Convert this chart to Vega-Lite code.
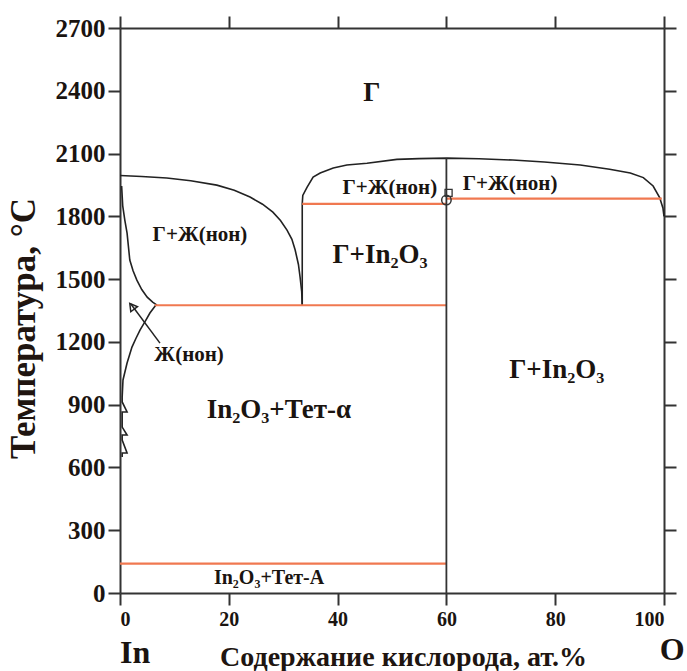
{
  "$schema": "https://vega.github.io/schema/vega-lite/v6.json",
  "autosize": "none",
  "width": 544,
  "height": 565,
  "padding": {"left": 120, "top": 28, "right": 23, "bottom": 78},
  "background": "white",
  "config": {
    "font": "Liberation Serif",
    "view": {"stroke": null},
    "axis": {"grid": false, "domainColor": "#333", "domainWidth": 2, "tickColor": "#333", "tickWidth": 2, "tickSize": 12, "labelFont": "Liberation Serif", "labelFontWeight": "bold", "labelColor": "#1a1410", "titleFont": "Liberation Serif", "titleFontWeight": "bold", "titleColor": "#201510"}
  },
  "datasets": {
    "curves": [
      {"c": "A", "o": 1, "x": 0, "T": 1995}, {"c": "A", "o": 2, "x": 4, "T": 1990}, {"c": "A", "o": 3, "x": 8.6, "T": 1983}, {"c": "A", "o": 4, "x": 13, "T": 1970}, {"c": "A", "o": 5, "x": 17.8, "T": 1949}, {"c": "A", "o": 6, "x": 21, "T": 1925}, {"c": "A", "o": 7, "x": 23.9, "T": 1892}, {"c": "A", "o": 8, "x": 26.2, "T": 1858}, {"c": "A", "o": 9, "x": 28.1, "T": 1820}, {"c": "A", "o": 10, "x": 29.5, "T": 1780}, {"c": "A", "o": 11, "x": 30.7, "T": 1734}, {"c": "A", "o": 12, "x": 31.6, "T": 1690}, {"c": "A", "o": 13, "x": 32.2, "T": 1639}, {"c": "A", "o": 14, "x": 32.8, "T": 1570}, {"c": "A", "o": 15, "x": 33.1, "T": 1510}, {"c": "A", "o": 16, "x": 33.4, "T": 1440}, {"c": "A", "o": 17, "x": 33.5, "T": 1376},
      {"c": "B", "o": 1, "x": 33.5, "T": 1376}, {"c": "B", "o": 2, "x": 33.5, "T": 1860}, {"c": "B", "o": 3, "x": 33.6, "T": 1900}, {"c": "B", "o": 4, "x": 34.4, "T": 1940}, {"c": "B", "o": 5, "x": 35.5, "T": 1988}, {"c": "B", "o": 6, "x": 36.8, "T": 2007}, {"c": "B", "o": 7, "x": 39.2, "T": 2031}, {"c": "B", "o": 8, "x": 41.7, "T": 2045}, {"c": "B", "o": 9, "x": 45.4, "T": 2054}, {"c": "B", "o": 10, "x": 50.9, "T": 2072}, {"c": "B", "o": 11, "x": 55, "T": 2076}, {"c": "B", "o": 12, "x": 60.1, "T": 2078}, {"c": "B", "o": 13, "x": 66, "T": 2075}, {"c": "B", "o": 14, "x": 72.2, "T": 2069}, {"c": "B", "o": 15, "x": 78, "T": 2060}, {"c": "B", "o": 16, "x": 84.6, "T": 2045}, {"c": "B", "o": 17, "x": 90, "T": 2025}, {"c": "B", "o": 18, "x": 93.8, "T": 2007}, {"c": "B", "o": 19, "x": 96.2, "T": 1985}, {"c": "B", "o": 20, "x": 98.0, "T": 1945}, {"c": "B", "o": 21, "x": 99.2, "T": 1890}, {"c": "B", "o": 22, "x": 99.8, "T": 1840}, {"c": "B", "o": 23, "x": 100, "T": 1800},
      {"c": "C", "o": 1, "x": 0.3, "T": 1945}, {"c": "C", "o": 2, "x": 0.5, "T": 1850}, {"c": "C", "o": 3, "x": 0.9, "T": 1780}, {"c": "C", "o": 4, "x": 1.3, "T": 1720}, {"c": "C", "o": 5, "x": 1.8, "T": 1591}, {"c": "C", "o": 6, "x": 2.4, "T": 1540}, {"c": "C", "o": 7, "x": 3.1, "T": 1495}, {"c": "C", "o": 8, "x": 4.0, "T": 1450}, {"c": "C", "o": 9, "x": 5.0, "T": 1414}, {"c": "C", "o": 10, "x": 6.0, "T": 1390}, {"c": "C", "o": 11, "x": 6.8, "T": 1376},
      {"c": "D", "o": 1, "x": 6.6, "T": 1376}, {"c": "D", "o": 2, "x": 5.5, "T": 1338}, {"c": "D", "o": 3, "x": 4.6, "T": 1297}, {"c": "D", "o": 4, "x": 3.7, "T": 1257}, {"c": "D", "o": 5, "x": 2.9, "T": 1215}, {"c": "D", "o": 6, "x": 2.2, "T": 1175}, {"c": "D", "o": 7, "x": 1.3, "T": 1099}, {"c": "D", "o": 8, "x": 0.55, "T": 1018}, {"c": "D", "o": 9, "x": 0.4, "T": 936}, {"c": "D", "o": 10, "x": 0.4, "T": 913}, {"c": "D", "o": 11, "x": 1.3, "T": 865}, {"c": "D", "o": 12, "x": 0.4, "T": 865}, {"c": "D", "o": 13, "x": 0.4, "T": 793}, {"c": "D", "o": 14, "x": 1.3, "T": 755}, {"c": "D", "o": 15, "x": 0.4, "T": 755}, {"c": "D", "o": 16, "x": 0.4, "T": 731}, {"c": "D", "o": 17, "x": 1.3, "T": 669}, {"c": "D", "o": 18, "x": 0.4, "T": 669}, {"c": "D", "o": 19, "x": 0.4, "T": 650}
    ],
    "isotherms": [
      {"x": 6.4, "x2": 60, "T": 1375},
      {"x": 33.5, "x2": 60, "T": 1860},
      {"x": 60, "x2": 99.6, "T": 1885},
      {"x": 0, "x2": 60, "T": 140}
    ],
    "verticals": [
      {"x": 60, "T": 0, "T2": 2078}
    ],
    "arrow": [
      {"x": 7.35, "T": 1194, "x2": 2.0, "T2": 1381}
    ],
    "arrowhead": [
      {"x": 2.2, "T": 1370}
    ],
    "circ": [{"x": 60, "T": 1878}],
    "sq": [{"x": 60.4, "T": 1912}],
    "lab21": [
      {"t": "Г+Ж(нон)", "x": 14.7, "T": 1710},
      {"t": "Г+Ж(нон)", "x": 49.6, "T": 1935},
      {"t": "Г+Ж(нон)", "x": 71.7, "T": 1954},
      {"t": "Ж(нон)", "x": 12.7, "T": 1137}
    ],
    "lab27": [
      {"t": "Г+In₂O₃", "x": 47.8, "T": 1615},
      {"t": "Г+In₂O₃", "x": 80.3, "T": 1065},
      {"t": "In₂O₃+Тет-α", "x": 29.2, "T": 874}
    ],
    "labG": [{"t": "Г", "x": 46.3, "T": 2389}],
    "labA": [{"t": "In₂O₃+Тет-A", "x": 27.4, "T": 72}],
    "ends": [
      {"t": "In", "x": 2.8, "T": -335},
      {"t": "O", "x": 101.5, "T": -320}
    ]
  },
  "layer": [
    {
      "layer": [
        {
          "data": {"name": "curves"},
          "mark": {"type": "line", "color": "#222", "strokeWidth": 1.6},
          "encoding": {
            "x": {"field": "x", "type": "quantitative", "scale": {"domain": [0, 100], "nice": false}, "axis": {"orient": "bottom", "values": [0, 20, 40, 60, 80, 100], "format": "d", "labelFontSize": 20, "labelPadding": 4, "title": "Содержание кислорода, ат.%", "titleFontSize": 28, "titleX": 283, "titleY": 72, "titleBaseline": "alphabetic"}},
            "y": {"field": "T", "type": "quantitative", "scale": {"domain": [0, 2700], "nice": false}, "axis": {"orient": "left", "values": [0, 300, 600, 900, 1200, 1500, 1800, 2100, 2400, 2700], "format": "d", "labelFontSize": 25, "labelPadding": 3, "title": "Температура, °C", "titleFontSize": 35, "titleX": -86, "titleY": 300, "titleBaseline": "alphabetic", "titleAngle": -90, "titleAlign": "center"}},
            "detail": {"field": "c"},
            "order": {"field": "o", "type": "quantitative"}
          }
        },
        {
          "data": {"name": "isotherms"},
          "mark": {"type": "rule", "color": "#f07850", "strokeWidth": 2.2},
          "encoding": {"x": {"field": "x", "type": "quantitative"}, "x2": {"field": "x2"}, "y": {"field": "T", "type": "quantitative"}}
        },
        {
          "data": {"name": "verticals"},
          "mark": {"type": "rule", "color": "#333", "strokeWidth": 1.8},
          "encoding": {"x": {"field": "x", "type": "quantitative"}, "y": {"field": "T", "type": "quantitative"}, "y2": {"field": "T2"}}
        },
        {
          "data": {"name": "arrow"},
          "mark": {"type": "rule", "color": "#222", "strokeWidth": 1.5},
          "encoding": {"x": {"field": "x", "type": "quantitative"}, "y": {"field": "T", "type": "quantitative"}, "x2": {"field": "x2"}, "y2": {"field": "T2"}}
        },
        {
          "data": {"name": "arrowhead"},
          "mark": {"type": "point", "shape": "triangle-up", "angle": 323, "size": 70, "filled": false, "stroke": "#222", "strokeWidth": 1.5, "opacity": 1},
          "encoding": {"x": {"field": "x", "type": "quantitative"}, "y": {"field": "T", "type": "quantitative"}}
        },
        {
          "data": {"name": "circ"},
          "mark": {"type": "point", "shape": "circle", "size": 90, "filled": false, "stroke": "#333", "strokeWidth": 1.5, "opacity": 1},
          "encoding": {"x": {"field": "x", "type": "quantitative"}, "y": {"field": "T", "type": "quantitative"}}
        },
        {
          "data": {"name": "sq"},
          "mark": {"type": "point", "shape": "square", "size": 50, "filled": false, "stroke": "#333", "strokeWidth": 1.3, "opacity": 1},
          "encoding": {"x": {"field": "x", "type": "quantitative"}, "y": {"field": "T", "type": "quantitative"}}
        },
        {
          "data": {"name": "lab21"},
          "mark": {"type": "text", "fontSize": 21, "fontWeight": "bold", "color": "#1a1410", "baseline": "middle"},
          "encoding": {"x": {"field": "x", "type": "quantitative"}, "y": {"field": "T", "type": "quantitative"}, "text": {"field": "t"}}
        },
        {
          "data": {"name": "lab27"},
          "mark": {"type": "text", "fontSize": 27, "fontWeight": "bold", "color": "#1a1410", "baseline": "middle"},
          "encoding": {"x": {"field": "x", "type": "quantitative"}, "y": {"field": "T", "type": "quantitative"}, "text": {"field": "t"}}
        },
        {
          "data": {"name": "labG"},
          "mark": {"type": "text", "fontSize": 27, "fontWeight": "bold", "color": "#1a1410", "baseline": "middle"},
          "encoding": {"x": {"field": "x", "type": "quantitative"}, "y": {"field": "T", "type": "quantitative"}, "text": {"field": "t"}}
        },
        {
          "data": {"name": "labA"},
          "mark": {"type": "text", "fontSize": 20, "fontWeight": "bold", "color": "#1a1410", "baseline": "middle"},
          "encoding": {"x": {"field": "x", "type": "quantitative"}, "y": {"field": "T", "type": "quantitative"}, "text": {"field": "t"}}
        },
        {
          "data": {"name": "ends"},
          "mark": {"type": "text", "fontSize": 32, "fontWeight": "bold", "color": "#1a1410", "baseline": "alphabetic"},
          "encoding": {"x": {"field": "x", "type": "quantitative"}, "y": {"field": "T", "type": "quantitative"}, "text": {"field": "t"}}
        }
      ]
    },
    {
      "data": {"values": [{"x": 0, "T": 0}]},
      "mark": {"type": "point", "opacity": 0},
      "encoding": {
        "x": {"field": "x", "type": "quantitative", "axis": {"orient": "top", "values": [0, 20, 40, 60, 80, 100], "labels": false, "title": null}},
        "y": {"field": "T", "type": "quantitative", "axis": {"orient": "right", "values": [0, 300, 600, 900, 1200, 1500, 1800, 2100, 2400, 2700], "labels": false, "title": null}}
      }
    }
  ],
  "resolve": {"axis": {"x": "independent", "y": "independent"}}
}
